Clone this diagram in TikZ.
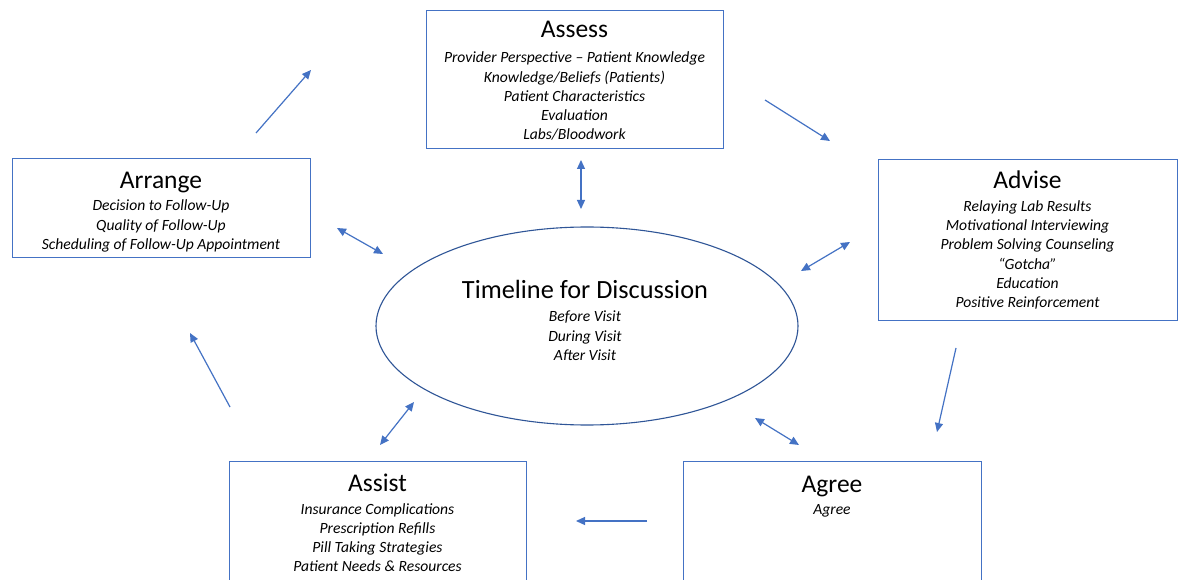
\documentclass[tikz,border=0pt]{standalone}
\usepackage{fontspec}
\setmainfont{Carlito}
\usetikzlibrary{arrows.meta,shapes.geometric}
\definecolor{boxblue}{HTML}{4472C4}
\definecolor{ellblue}{HTML}{2F5597}
\tikzset{
  boxframe/.style={draw=boxblue, line width=1.1pt, rectangle, inner sep=0pt, anchor=north west},
  titletext/.style={anchor=base, inner sep=0pt, font=\fontsize{25.5}{28}\selectfont},
  itemtext/.style={anchor=base, inner sep=0pt, align=center, font=\itshape\fontsize{15.6}{19.2}\selectfont},
  flow/.style={draw=boxblue, line width=1.2pt, -{Triangle[length=9pt,width=8pt]}},
  both/.style={draw=boxblue, line width=1.2pt, {Triangle[length=9pt,width=8pt]}-{Triangle[length=9pt,width=8pt]}}
}
\begin{document}
\begin{tikzpicture}[x=1pt,y=-1pt]
\useasboundingbox (0,0) rectangle (1179,580);
\clip (0,0) rectangle (1179,580);
\fill[white] (0,0) rectangle (1179,580);

% boxes
\node[boxframe, minimum width=297pt, minimum height=138pt] (assessbox) at (426,10) {};
\node[boxframe, minimum width=299pt, minimum height=161pt] (advisebox) at (878,159) {};
\node[boxframe, minimum width=298pt, minimum height=99pt] (arrangebox) at (12,158) {};
\node[boxframe, minimum width=297pt, minimum height=140pt] (assistbox) at (229,461) {};
\node[boxframe, minimum width=298pt, minimum height=140pt] (agreebox) at (683,461) {};
\node[draw=ellblue, line width=1.1pt, ellipse, minimum width=422pt, minimum height=198pt, inner sep=0pt] (timeline) at (587,326) {};

% texts (item nodes anchored at the baseline of their last line)
\node[titletext] (assesstitle) at (574.5,38) {Assess};
\node[itemtext] (assessitems) at (574.5,139.8) {Provider Perspective – Patient Knowledge\\Knowledge/Beliefs (Patients)\\Patient Characteristics\\Evaluation\\Labs/Bloodwork};

\node[titletext] (advisetitle) at (1027.5,189) {Advise};
\node[itemtext] (adviseitems) at (1027.5,307.5) {Relaying Lab Results\\Motivational Interviewing\\Problem Solving Counseling\\“Gotcha”\\Education\\Positive Reinforcement};

\node[titletext] (arrangetitle) at (161,189) {Arrange};
\node[itemtext] (arrangeitems) at (161,249.4) {Decision to Follow-Up\\Quality of Follow-Up\\Scheduling of Follow-Up Appointment};

\node[titletext] (assisttitle) at (377.5,491) {Assist};
\node[itemtext] (assistitems) at (377.5,571.6) {Insurance Complications\\Prescription Refills\\Pill Taking Strategies\\Patient Needs \& Resources};

\node[titletext] (agreetitle) at (832,492) {Agree};
\node[itemtext] (agreeitems) at (832,514.5) {Agree};

\node[titletext, font=\fontsize{26.3}{30}\selectfont] (timelinetitle) at (585,299) {Timeline for Discussion};
\node[itemtext] (timelineitems) at (585,360.4) {Before Visit\\During Visit\\After Visit};

% arrow endpoints
\coordinate (a1s) at (256,133); \coordinate (a1e) at (311,70);
\coordinate (a2s) at (765,100); \coordinate (a2e) at (830,141);
\coordinate (a3s) at (956,348); \coordinate (a3e) at (937,432);
\coordinate (a4s) at (647,521); \coordinate (a4e) at (576,521);
\coordinate (a5s) at (230,407); \coordinate (a5e) at (190,333);

\coordinate (d1s) at (337,228); \coordinate (d1e) at (383,254);
\coordinate (d2s) at (581,160); \coordinate (d2e) at (581,209);
\coordinate (d3s) at (850,242); \coordinate (d3e) at (801,271);
\coordinate (d4s) at (755,418); \coordinate (d4e) at (799,445);
\coordinate (d5s) at (380,445); \coordinate (d5e) at (414,402);

\draw[flow] (a1s) -- (a1e);
\draw[flow] (a2s) -- (a2e);
\draw[flow] (a3s) -- (a3e);
\draw[flow] (a4s) -- (a4e);
\draw[flow] (a5s) -- (a5e);

\draw[both] (d1s) -- (d1e);
\draw[both] (d2s) -- (d2e);
\draw[both] (d3s) -- (d3e);
\draw[both] (d4s) -- (d4e);
\draw[both] (d5s) -- (d5e);
\end{tikzpicture}
\end{document}
